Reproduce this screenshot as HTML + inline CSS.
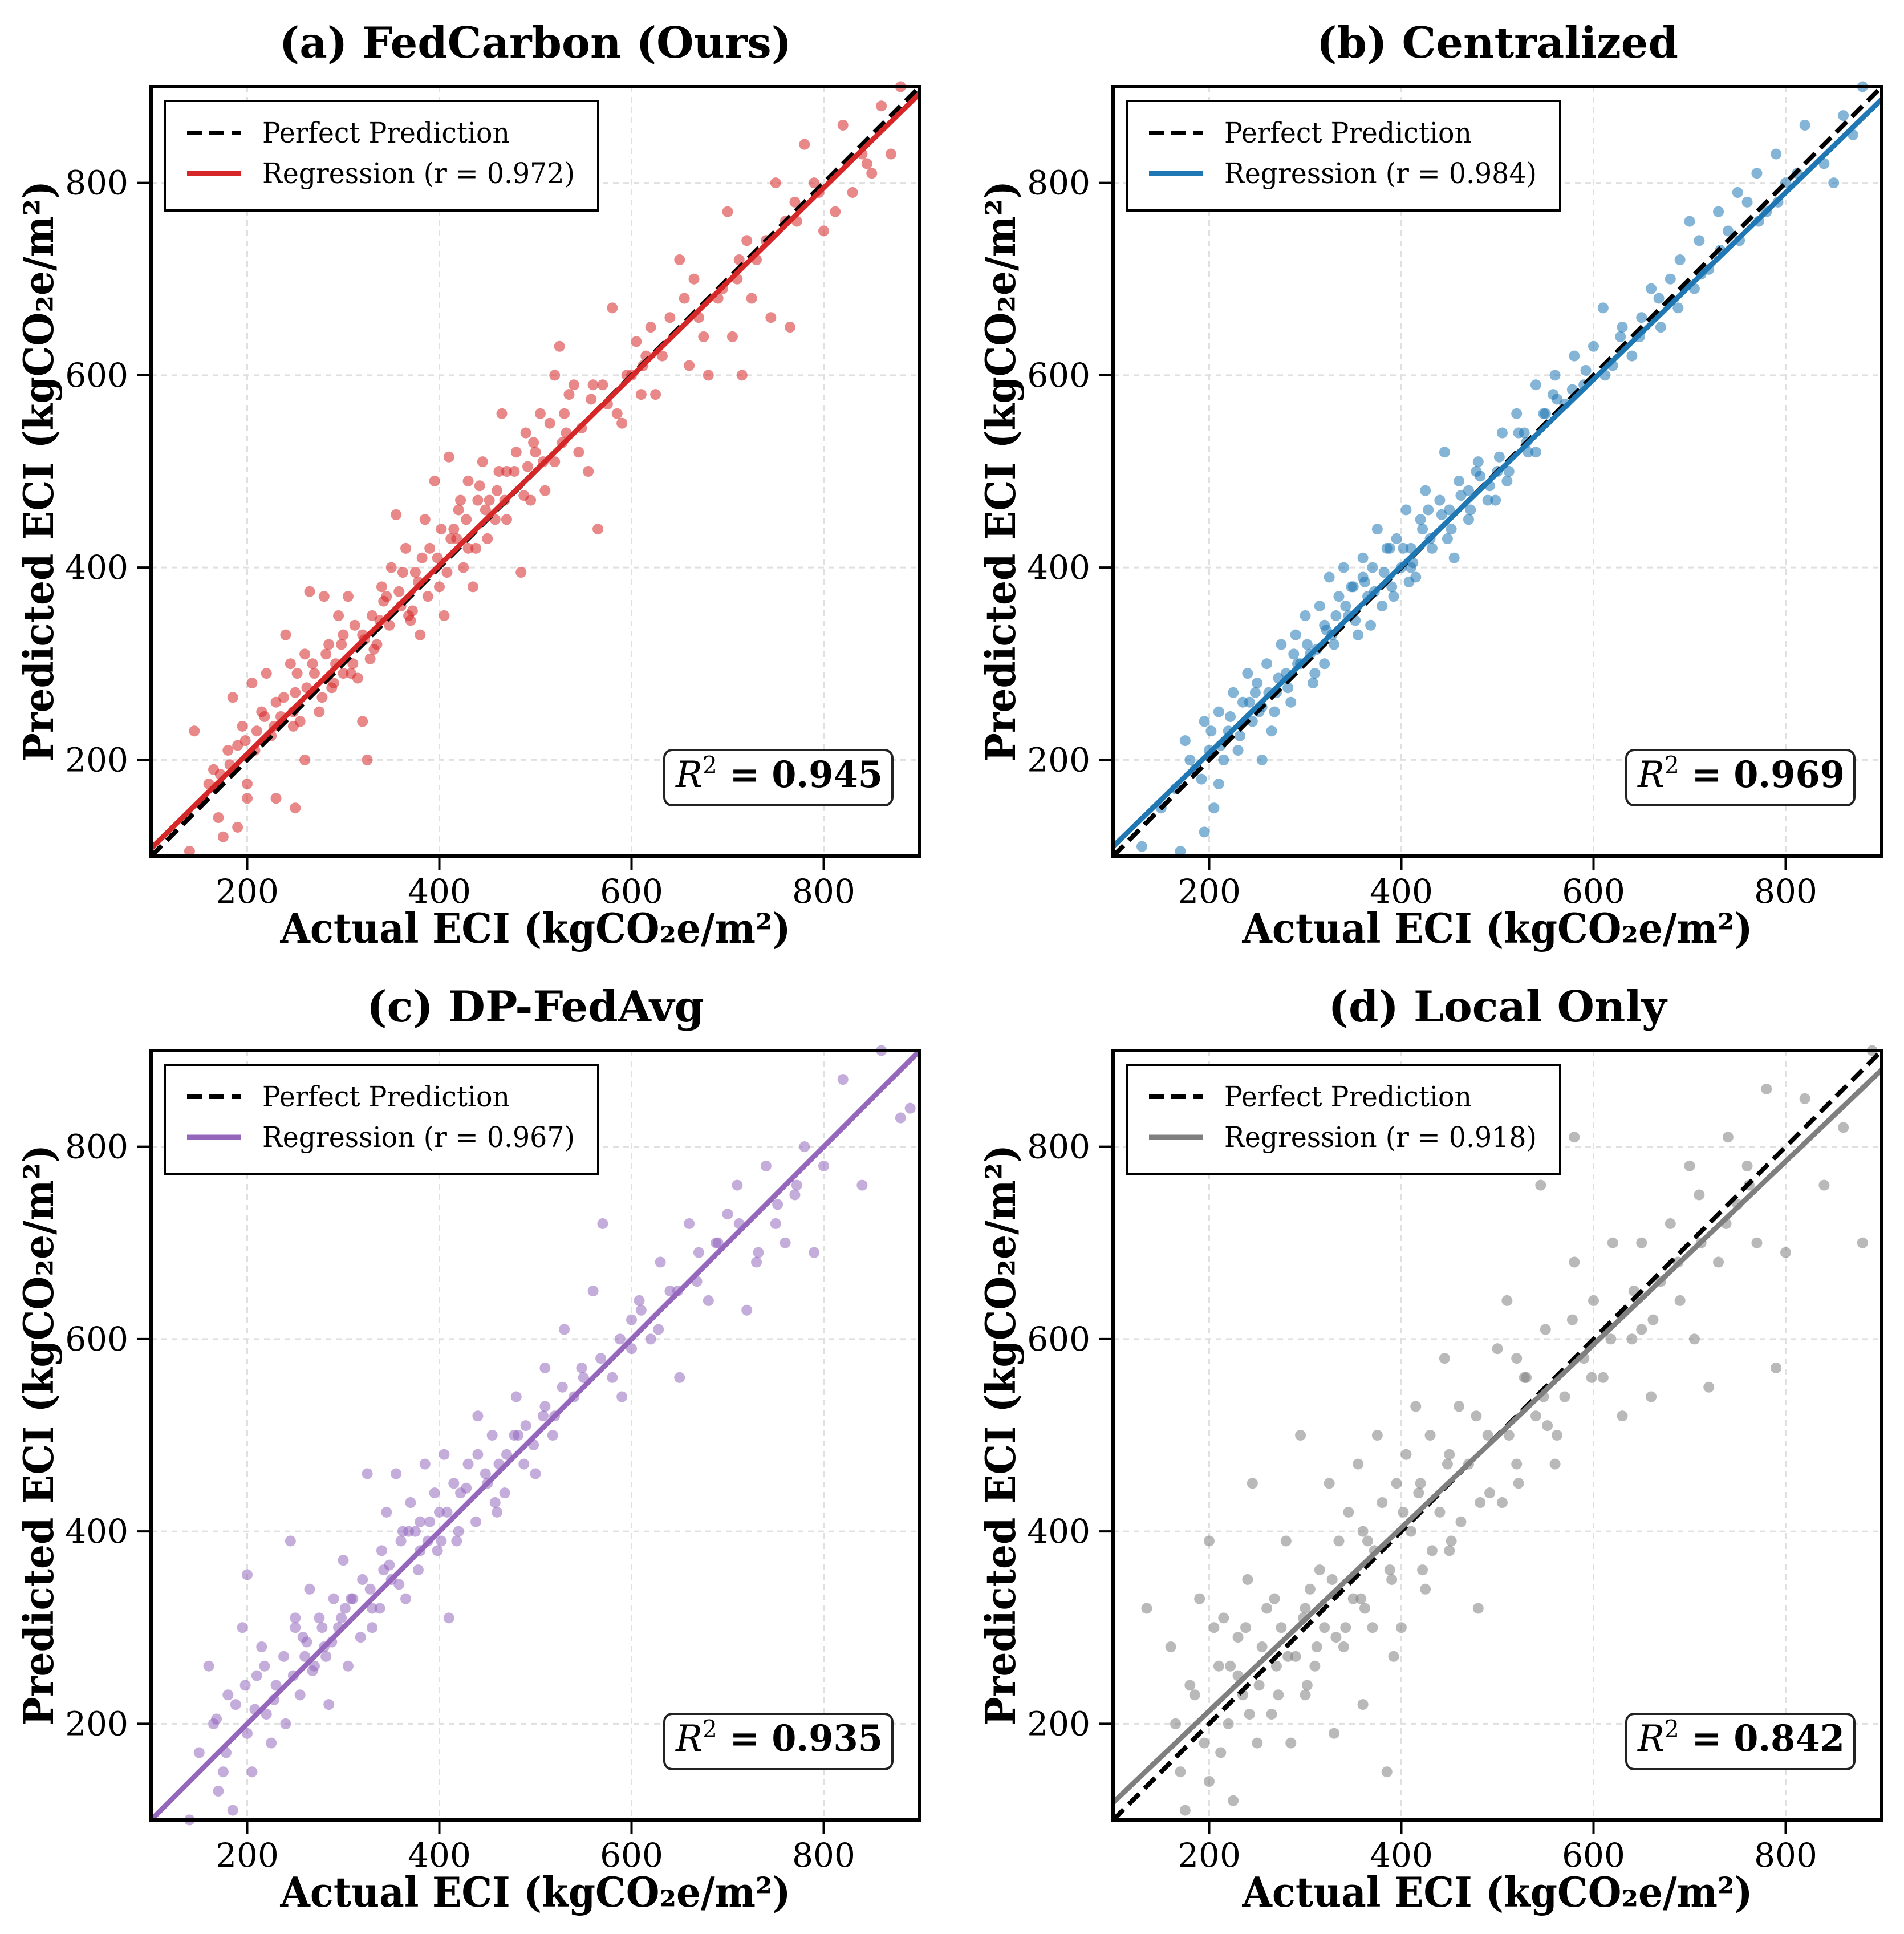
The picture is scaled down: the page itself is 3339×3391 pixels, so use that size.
<!DOCTYPE html>
<html><head><meta charset="utf-8"><style>
html,body{margin:0;padding:0;background:#fff}
svg{display:block}
text{font-family:"DejaVu Serif","Liberation Serif",serif}
</style></head><body>
<svg id="fig" width="3339" height="3391" viewBox="0 0 3339 3391" xmlns="http://www.w3.org/2000/svg"></svg>
<script>
const actualA=[145,160,165,170,180,185,190,195,200,200,205,210,215,220,225,230,235,240,245,250,255,260,265,270,275,280,285,290,295,300,305,310,315,320,325,330,335,340,350,355,360,365,370,375,380,385,390,395,400,405,410,415,420,425,430,435,440,445,450,460,465,470,480,485,490,495,500,505,510,520,525,530,540,545,555,565,570,580,590,600,605,610,620,625,640,650,660,665,670,680,690,700,705,710,715,720,730,745,750,760,765,770,780,790,800,820,830,840,850,860,870,880,230,250,190,175,140,260,300,320,345,430,470,520,560,615,
 172,182,198,208,218,228,238,248,252,262,268,278,282,292,298,308,312,322,328,338,342,348,358,362,368,378,382,388,398,402,408,418,422,428,438,442,448,458,462,468,478,488,498,508,515,528,535,548,558,575,585,595,612,632,655,675,695,712,725,740,772,795,812,845,248,288,332,372,412,452,492,532];
const predA=[230,175,190,140,210,265,215,235,175,160,280,230,250,290,225,260,245,330,300,270,240,310,375,290,250,370,320,280,350,330,370,300,285,240,200,350,320,380,400,455,360,420,345,395,330,450,420,490,380,350,515,440,460,400,490,380,470,510,430,480,560,500,520,395,540,470,520,560,480,600,630,560,590,520,500,440,590,670,550,600,635,580,650,580,660,720,610,700,660,600,680,770,640,700,600,740,720,660,800,760,650,780,840,800,750,860,790,830,810,880,830,900,160,150,130,120,105,200,290,330,370,420,450,510,590,620,
 185,195,220,210,245,235,265,250,290,275,300,265,310,300,320,290,340,325,305,345,365,340,375,395,350,385,410,370,410,440,395,430,470,450,420,485,460,450,500,470,500,475,530,510,550,530,580,545,575,570,560,600,610,620,680,640,690,720,680,740,760,790,770,820,235,275,315,355,430,470,505,540];
const actualB=[130,150,165,170,175,185,195,200,205,210,215,220,225,230,235,240,245,250,255,260,265,270,275,280,285,290,295,300,305,310,315,320,325,330,335,340,345,350,355,360,365,370,375,380,385,390,395,400,405,410,415,420,425,430,440,445,450,455,460,470,480,490,500,505,510,520,530,540,550,560,570,580,590,600,610,620,630,640,650,660,670,680,690,700,705,710,720,730,740,750,760,770,780,790,800,820,840,860,870,880,850,255,195,210,320,360,410,470,540,
 180,192,202,212,222,232,242,252,262,272,282,292,302,312,322,332,342,352,362,372,382,392,402,412,422,432,442,452,462,472,482,492,502,512,522,532,548,562,578,592,612,628,648,668,688,712,732,752,772,792,812,248,268,288,308,328,348,368,388,408,428,448,478,498,528,558];
const predB=[110,150,170,105,220,190,240,210,150,250,200,230,270,210,260,290,240,280,255,300,230,270,320,290,260,330,300,350,310,290,360,340,390,320,370,400,350,380,330,410,370,400,440,360,420,380,430,400,460,420,390,450,480,430,470,520,460,410,490,480,510,470,500,540,490,560,530,590,560,600,570,620,590,630,670,610,650,620,660,690,650,700,720,760,690,740,710,770,750,790,780,810,770,830,800,860,820,870,850,900,800,200,125,175,300,390,400,450,520,
 200,180,230,215,245,225,260,250,270,285,275,300,320,315,335,350,360,345,385,375,395,370,420,405,440,420,455,440,475,460,495,485,515,500,540,520,560,575,585,605,600,640,640,680,670,705,730,740,760,780,810,270,250,310,280,330,380,340,420,385,460,430,500,470,540,580];
const actualC=[140,150,160,165,170,175,180,185,195,200,200,205,210,215,220,225,230,240,245,250,255,260,265,270,275,280,285,290,295,300,305,310,320,325,330,340,345,350,355,360,365,370,375,380,385,390,395,400,405,410,415,420,430,440,450,455,460,470,480,490,500,510,520,530,540,550,560,570,580,590,600,610,620,630,640,650,660,670,680,690,700,710,720,730,740,750,760,770,780,790,800,820,840,860,880,890,250,190,330,380,440,510,600,
 168,178,188,198,208,218,228,238,248,258,268,278,288,298,308,318,328,338,348,358,368,378,388,398,408,418,428,438,448,458,468,478,488,498,508,518,528,548,568,588,608,628,648,668,688,712,732,752,772,262,282,302,342,362,402,422,462,482];
const predC=[100,170,260,200,130,150,230,110,300,190,355,150,250,280,210,180,240,200,390,300,230,270,340,260,310,280,220,330,300,370,260,330,350,460,300,380,420,350,460,390,330,430,400,380,470,410,440,420,480,310,450,400,470,520,450,500,420,480,540,510,460,570,520,610,540,560,650,720,560,540,620,630,600,680,650,560,720,690,640,700,730,760,630,680,780,720,700,750,800,690,780,870,760,900,830,840,310,90,320,410,480,530,590,
 205,170,220,240,215,260,225,270,250,290,255,300,285,310,330,290,340,320,365,345,400,360,390,380,420,390,445,410,460,430,440,500,470,490,520,500,550,570,580,600,640,610,650,660,700,720,690,740,760,285,270,320,360,400,390,440,470,500];
const actualD=[135,160,165,170,175,180,190,195,200,200,210,215,220,225,230,235,240,245,250,255,260,265,270,275,280,285,290,295,300,305,310,315,320,325,330,335,340,345,350,355,360,365,370,375,380,385,390,395,400,405,410,415,420,425,430,440,445,450,460,470,480,490,500,505,510,520,530,540,545,550,560,570,580,590,600,610,620,630,640,650,660,670,680,690,700,705,710,720,730,740,750,760,770,780,790,800,820,840,860,880,890,580,520,230,300,360,450,650,
 185,205,222,238,252,268,282,298,312,328,342,358,372,388,402,418,432,448,462,478,492,512,528,548,562,578,598,618,642,662,688,712,738,762,212,242,272,302,332,362,392,422,452,482,522,552];
const predD=[320,280,200,150,110,240,330,180,390,140,260,310,200,120,290,230,350,450,180,280,320,210,260,300,390,180,270,500,230,340,260,360,300,450,190,390,280,420,330,470,220,390,300,500,430,150,350,450,300,480,400,530,450,340,500,420,580,380,530,470,320,500,590,430,640,470,560,520,760,610,470,540,680,580,640,560,700,520,600,700,540,660,720,640,780,600,750,550,680,810,740,780,700,860,570,690,850,760,820,700,900,810,580,250,320,400,480,610,
 230,300,260,300,240,330,270,310,280,350,300,330,380,360,420,440,380,470,410,520,440,500,560,540,500,620,560,600,650,620,680,700,720,760,170,210,230,240,290,320,270,360,390,430,450,510];

const panels=[
 {key:'a',title:'(a) FedCarbon (Ours)',color:'#d62728',r:'0.972',r2:'0.945',xs:actualA,ys:predA,fit:[108,893],ox:0,oy:0},
 {key:'b',title:'(b) Centralized',color:'#1f77b4',r:'0.984',r2:'0.969',xs:actualB,ys:predB,fit:[110,887],ox:1687,oy:0},
 {key:'c',title:'(c) DP-FedAvg',color:'#9467bd',r:'0.967',r2:'0.935',xs:actualC,ys:predC,fit:[100,900],ox:0,oy:1690},
 {key:'d',title:'(d) Local Only',color:'#7f7f7f',r:'0.918',r2:'0.842',xs:actualD,ys:predD,fit:[118,880],ox:1687,oy:1690}
];
const ticks=[200,400,600,800];
const NS='http://www.w3.org/2000/svg';
const fig=document.getElementById('fig');
function mk(tag,attrs,parent,txt){const e=document.createElementNS(NS,tag);for(const k in attrs)e.setAttribute(k,attrs[k]);if(txt!==undefined)e.textContent=txt;parent.appendChild(e);return e;}
panels.forEach(p=>{
 const L=265+p.ox,R=1613+p.ox,T=152+p.oy,B=1501+p.oy;
 const sx=v=>L+(v-100)*(R-L)/800, sy=v=>B-(v-100)*(B-T)/800;
 const g=mk('g',{},fig);
 
 
 const t=mk('text',{x:(L+R)/2,y:T-51,'text-anchor':'middle','font-size':75,'font-weight':'bold'},g,p.title);
 
 
 ticks.forEach(v=>{
  const gx=mk('line',{x1:sx(v),x2:sx(v),y1:T,y2:B,stroke:'#e0e0e0','stroke-width':3,'stroke-dasharray':'10 8'},g);
  
  
  const gy=mk('line',{x1:L,x2:R,y1:sy(v),y2:sy(v),stroke:'#e0e0e0','stroke-width':3,'stroke-dasharray':'10 8'},g);
  
  
  const tx=mk('line',{x1:sx(v),x2:sx(v),y1:B,y2:B+25,stroke:'#000','stroke-width':4},g);
  
  
  const ty=mk('line',{x1:L-25,x2:L,y1:sy(v),y2:sy(v),stroke:'#000','stroke-width':4},g);
  
  
  const xl=mk('text',{x:sx(v),y:B+82,'text-anchor':'middle','font-size':58},g,String(v));
  
  
  const yl=mk('text',{x:L-40,y:sy(v)+20,'text-anchor':'end','font-size':58},g,String(v));
  
  
 });
 const pts=mk('g',{fill:p.color,'fill-opacity':0.55},g);
 
 
 const n=Math.min(p.xs.length,p.ys.length);
 for(let i=0;i<n;i++){
  const x=p.xs[i], y=p.ys[i];
  if(!(x>=100&&x<=900&&y>=100&&y<=900))continue;
  const c=mk('circle',{cx:sx(x),cy:sy(y),r:9.5},pts);
  
  
 }
 const dl=mk('line',{x1:sx(100),y1:sy(100),x2:sx(900),y2:sy(900),stroke:'#000','stroke-width':8,'stroke-dasharray':'26 13'},g);
 
 
 const fl=mk('line',{x1:sx(100),y1:sy(p.fit[0]),x2:sx(900),y2:sy(p.fit[1]),stroke:p.color,'stroke-width':9},g);
 
 
 const fr=mk('rect',{x:L,y:T,width:R-L,height:B-T,fill:'none',stroke:'#000','stroke-width':6},g);
 
 
 const lg=mk('g',{},g);
 
 
 mk('rect',{x:L+24,y:T+25,width:760,height:192,fill:'#fff',stroke:'#000','stroke-width':4},lg);
 mk('line',{x1:L+63,x2:L+158,y1:T+81,y2:T+81,stroke:'#000','stroke-width':8,'stroke-dasharray':'26 13'},lg);
 mk('line',{x1:L+63,x2:L+158,y1:T+152,y2:T+152,stroke:p.color,'stroke-width':9},lg);
 const le1=mk('text',{x:L+195,y:T+98,'font-size':50,textLength:434,lengthAdjust:'spacingAndGlyphs'},lg,'Perfect Prediction');
 
 
 const le2=mk('text',{x:L+195,y:T+169,'font-size':50,textLength:548,lengthAdjust:'spacingAndGlyphs'},lg,'Regression (r = '+p.r+')');
 
 
 const rb=mk('g',{},g);
 
 
 mk('rect',{x:L+900,y:T+1163,width:400,height:97,rx:14,fill:'#fff',stroke:'#222','stroke-width':4},rb);
 const rt=mk('text',{x:L+920,y:T+1228,'font-size':64,textLength:363,lengthAdjust:'spacingAndGlyphs'},rb);
 mk('tspan',{'font-style':'italic'},rt,'R');
 mk('tspan',{dy:-24,'font-size':42},rt,'2');
 mk('tspan',{dy:24,'font-weight':'bold'},rt,' = '+p.r2);
 const xlab=mk('text',{x:(L+R)/2,y:B+152,'text-anchor':'middle','font-size':72,'font-weight':'bold',textLength:895,lengthAdjust:'spacingAndGlyphs'},g,'Actual ECI (kgCO₂e/m²)');
 
 
 const cy=(T+B)/2, cx=L-172;
 const ylab=mk('text',{x:cx,y:cy,'text-anchor':'middle','font-size':72,'font-weight':'bold',transform:'rotate(-90 '+cx+' '+cy+')',textLength:1019,lengthAdjust:'spacingAndGlyphs'},g,'Predicted ECI (kgCO₂e/m²)');
 
 
});
</script>
</body></html>
